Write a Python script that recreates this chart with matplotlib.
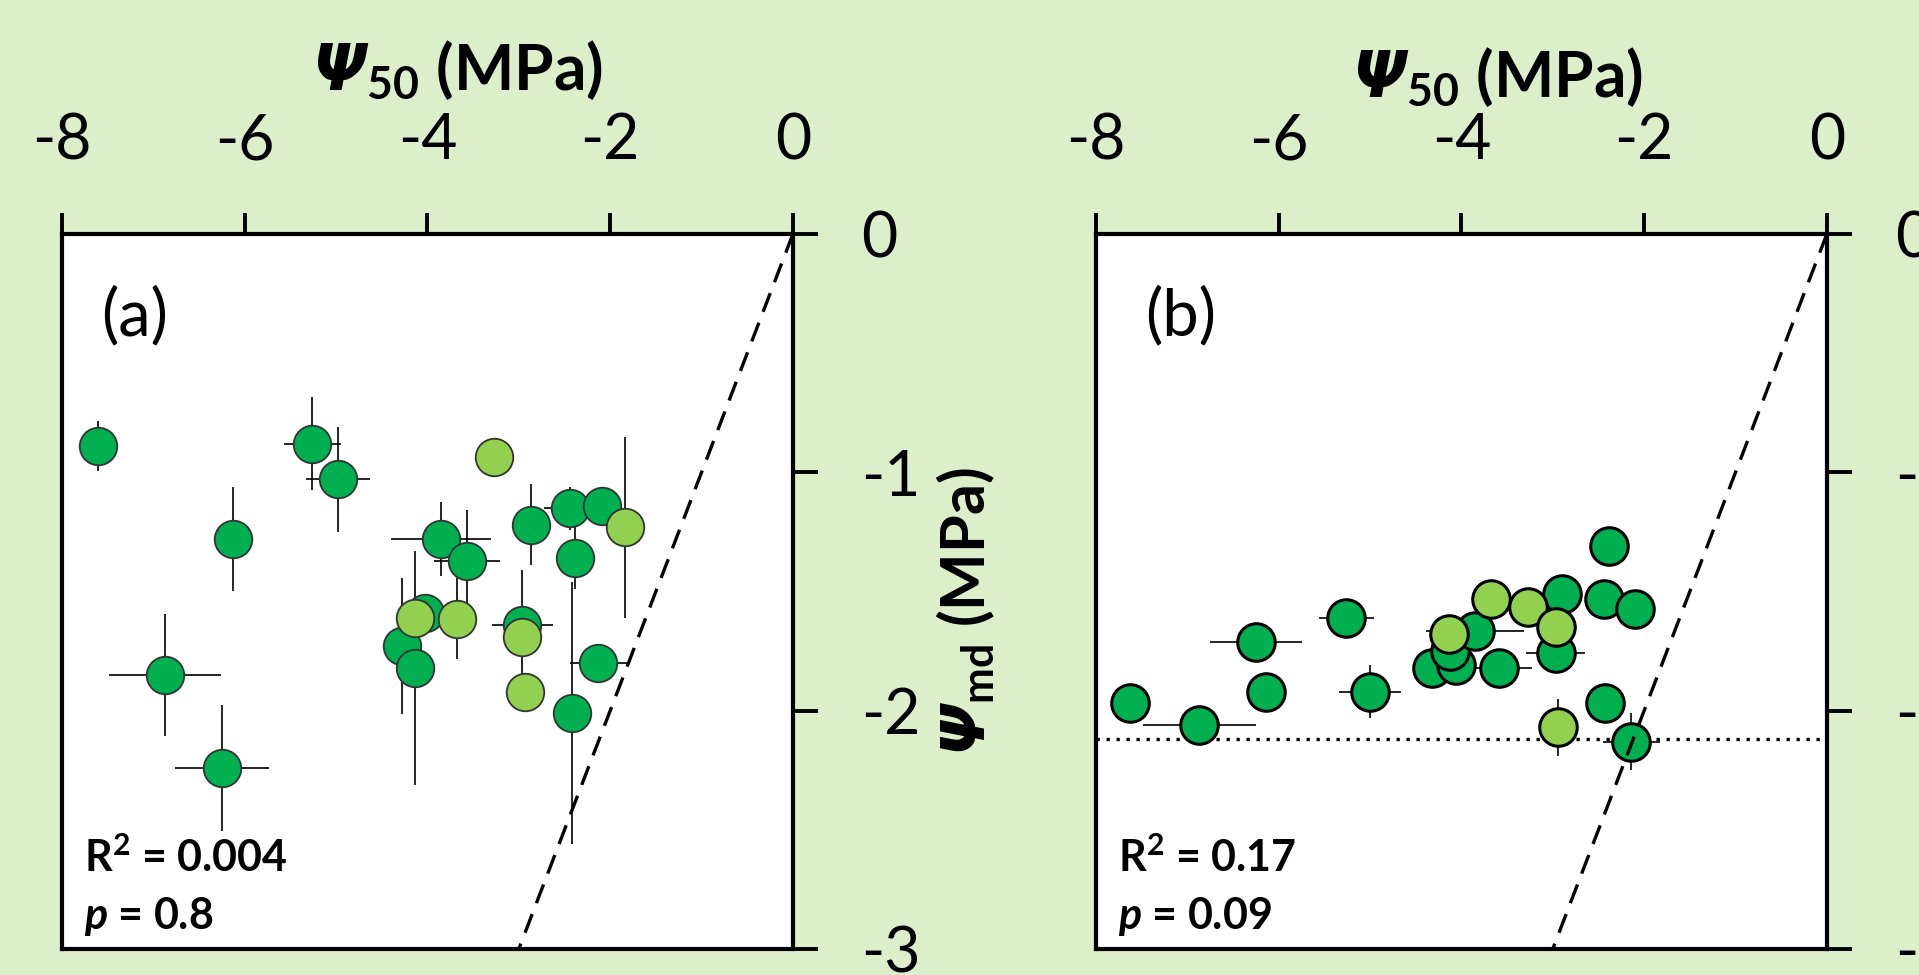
import matplotlib
matplotlib.use("Agg")
import matplotlib.pyplot as plt

plt.rcParams['font.family'] = ['Lato', 'DejaVu Sans']
plt.rcParams['axes.unicode_minus'] = False
plt.rcParams['mathtext.fontset'] = 'custom'
plt.rcParams['mathtext.rm'] = 'Lato:bold'
plt.rcParams['mathtext.it'] = 'Lato:italic:bold'
plt.rcParams['mathtext.bf'] = 'DejaVu Sans:italic:bold'

# panel (a): P50 vs midday water potential, season 1
a_x = [-7.61, -5.26, -4.98, -6.13, -6.87, -6.25, -3.85, -3.57, -2.87, -2.44, -2.09,
       -2.38, -4.03, -4.28, -4.14, -2.96, -2.13, -2.42,
       -3.27, -1.84, -4.14, -3.68, -2.96, -2.93]
a_y = [-0.89, -0.88, -1.03, -1.28, -1.85, -2.24, -1.28, -1.37, -1.22, -1.15, -1.14,
       -1.36, -1.59, -1.73, -1.82, -1.64, -1.80, -2.01,
       -0.935, -1.23, -1.61, -1.615, -1.69, -1.92]
a_xerr = [0, 0.31, 0.35, 0, 0.61, 0.515, 0.55, 0.36, 0, 0.28, 0,
          0, 0, 0, 0, 0.33, 0.31, 0,
          0, 0, 0, 0, 0, 0]
a_yerr = [0.105, 0.195, 0.22, 0.22, 0.255, 0.265, 0.155, 0.21, 0.17, 0.09, 0,
          0.13, 0, 0.285, 0.49, 0.23, 0, 0.55,
          0, 0.38, 0, 0.17, 0, 0.08]
a_light = [False] * 18 + [True] * 6

# panel (b)
b_x = [-7.63, -6.87, -6.25, -6.14, -5.26, -5.00, -4.32, -4.06, -4.12, -3.85, -3.59,
       -2.90, -2.97, -2.39, -2.44, -2.10, -2.43, -2.14,
       -4.14, -3.68, -3.27, -2.97, -2.94]
b_y = [-1.97, -2.06, -1.71, -1.92, -1.61, -1.92, -1.82, -1.81, -1.75, -1.665, -1.82,
       -1.51, -1.76, -1.31, -1.53, -1.575, -1.97, -2.13,
       -1.68, -1.53, -1.565, -1.65, -2.07]
b_xerr = [0, 0.62, 0.5, 0, 0.3, 0.34, 0.2, 0, 0, 0.54, 0.36,
          0, 0.32, 0, 0, 0, 0, 0.31,
          0, 0, 0, 0, 0]
b_yerr = [0, 0, 0, 0, 0, 0.11, 0, 0, 0, 0, 0,
          0, 0, 0, 0, 0, 0, 0.12,
          0, 0, 0, 0, 0.12]
b_light = [False] * 18 + [True] * 5
b_hline = -2.12

panel_text = [('(a)', '0.004', '0.8'), ('(b)', '0.17', '0.09')]

bg = '#DDEECB'
dark = '#00B050'
light = '#92D050'

fig = plt.figure(figsize=(19.19, 9.75), dpi=100, facecolor=bg)
axa = fig.add_axes([0.0323, 0.0267, 0.3809, 0.7333])
axb = fig.add_axes([0.5711, 0.0267, 0.3809, 0.7333])


def draw(ax, xs, ys, xe, ye, lt, edge_c, edge_lw):
    ax.errorbar(xs, ys, xerr=xe, yerr=ye, fmt='none', ecolor='black',
                elinewidth=1.2, capsize=0, zorder=2)
    for want in (False, True):
        px = [x for x, l in zip(xs, lt) if l == want]
        py = [y for y, l in zip(ys, lt) if l == want]
        ax.scatter(px, py, s=730, c=light if want else dark,
                   edgecolors=edge_c, linewidths=edge_lw, zorder=3)
    ax.plot([0, -3], [0, -3], color='black', lw=2.4, dashes=(6, 3.5), zorder=4)
    ax.set_xlim(-8, 0)
    ax.set_ylim(-3, 0)
    ax.set_xticks([-8, -6, -4, -2, 0])
    ax.set_yticks([0, -1, -2, -3])
    ax.xaxis.tick_top()
    ax.yaxis.tick_right()
    ax.tick_params(axis='x', direction='out', length=15, width=2.8, pad=31, labelsize=45)
    ax.tick_params(axis='y', direction='out', length=18, width=2.8, pad=31, labelsize=45)
    for sp in ax.spines.values():
        sp.set_linewidth(3)
    ax.set_facecolor('white')


draw(axa, a_x, a_y, a_xerr, a_yerr, a_light, '#333333', 1.3)
draw(axb, b_x, b_y, b_xerr, b_yerr, b_light, 'black', 2.2)
axb.axhline(b_hline, color='black', lw=2.4, linestyle=(0, (1, 2.0)), zorder=1)

for ax, (lab, r2, p), dx in zip([axa, axb], panel_text, [0.054, 0.067]):
    ax.text(dx, 0.885, lab, transform=ax.transAxes, fontsize=47, va='center', ha='left')
    ax.text(0.03, 0.127, r'R$^{\mathrm{2}}$ = ' + r2, transform=ax.transAxes,
            fontsize=31, fontweight='bold', va='center', ha='left')
    ax.text(0.03, 0.045, r'$\mathit{p}$ = ' + p, transform=ax.transAxes, fontsize=31,
            fontweight='bold', va='center', ha='left')

fig.text(0.1626, 0.9077, r'$\mathbf{\Psi}_{\mathrm{50}}$ (MPa)', fontsize=46,
         fontweight='bold', ha='left', va='baseline')
fig.text(0.7045, 0.9005, r'$\mathbf{\Psi}_{\mathrm{50}}$ (MPa)', fontsize=46,
         fontweight='bold', ha='left', va='baseline')
fig.text(0.5034, 0.3723, r'$\mathbf{\Psi}_{\mathrm{md}}$ (MPa)', fontsize=44,
         fontweight='bold', rotation=90, ha='center', va='center')

fig.savefig('out.png', dpi=100, facecolor=bg)
